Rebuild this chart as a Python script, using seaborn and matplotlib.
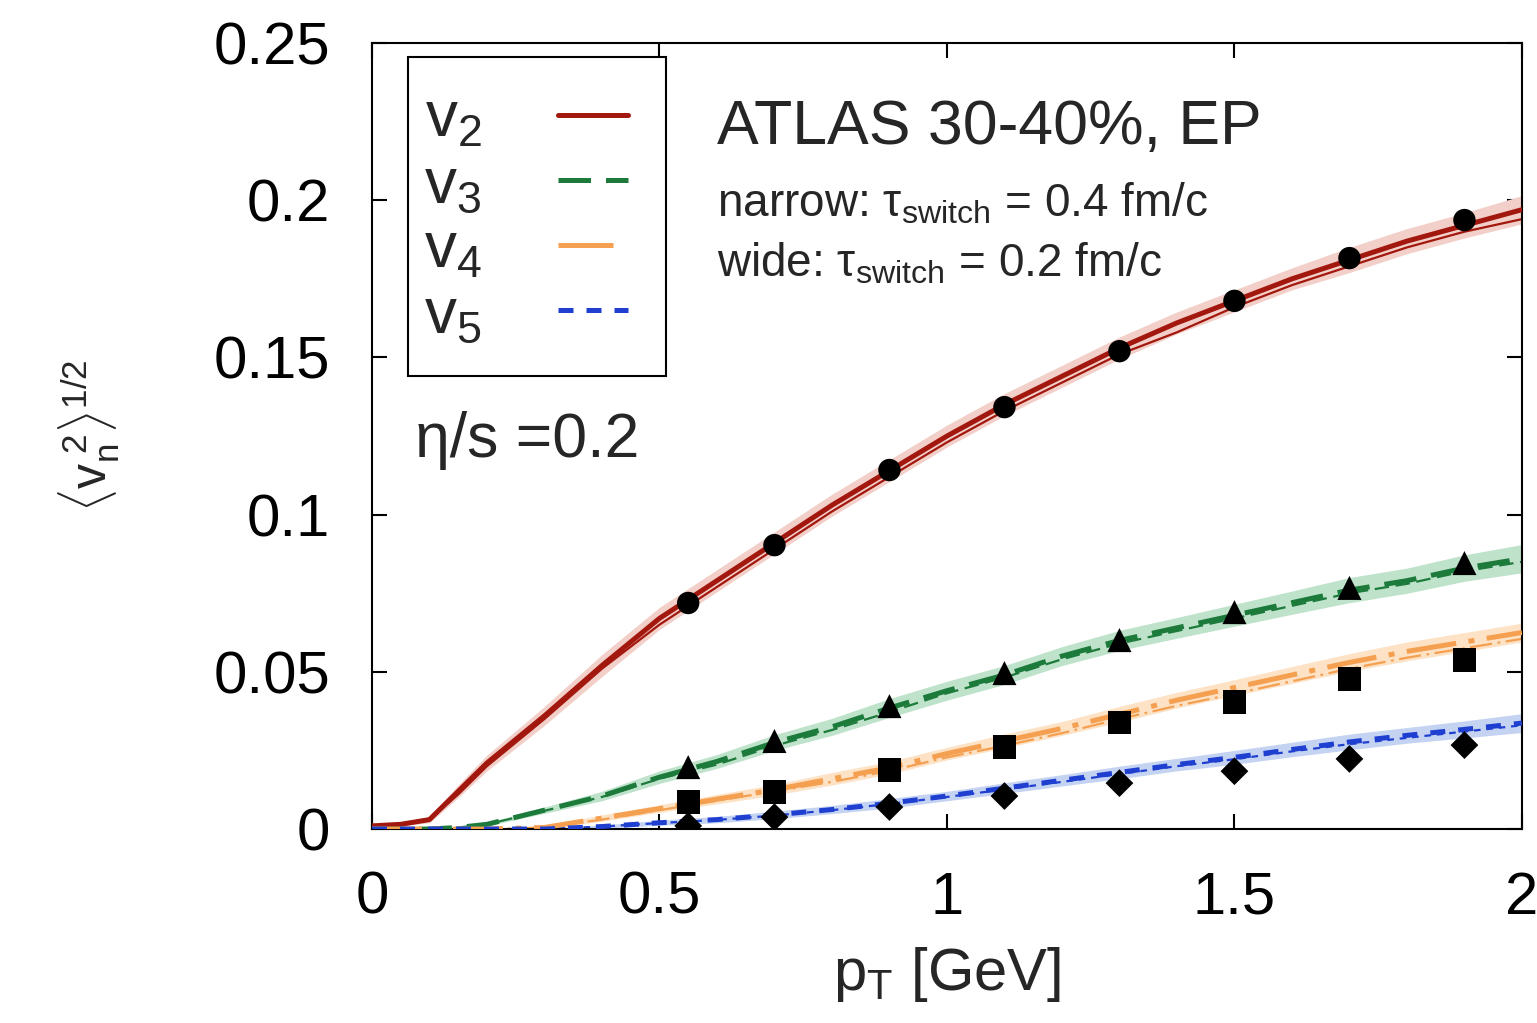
import seaborn as sns
import matplotlib.pyplot as plt
from matplotlib.lines import Line2D
from matplotlib.patches import Rectangle

# pT grid for the hydro curves [GeV]
pt = [0.0, 0.05, 0.1, 0.15, 0.2, 0.3, 0.4, 0.5, 0.6, 0.7, 0.8, 0.9,
      1.0, 1.1, 1.2, 1.3, 1.4, 1.5, 1.6, 1.7, 1.8, 1.9, 2.0]

# narrow (tau_switch = 0.4 fm/c), thick lines
v2_narrow = [0.001, 0.0015, 0.003, 0.012, 0.021, 0.036, 0.052, 0.067, 0.079, 0.091, 0.103, 0.114,
             0.125, 0.135, 0.144, 0.153, 0.161, 0.168, 0.175, 0.181, 0.187, 0.192, 0.197]
v3_narrow = [0.0, 0.0, 0.0, 0.0005, 0.0015, 0.006, 0.0105, 0.0165, 0.0215, 0.0275, 0.0325, 0.0385,
             0.044, 0.049, 0.055, 0.060, 0.064, 0.068, 0.072, 0.076, 0.079, 0.083, 0.086]
v4_narrow = [0.0, 0.0, 0.0, 0.0, 0.0, 0.0005, 0.0035, 0.0065, 0.0095, 0.0125, 0.016, 0.0195,
             0.024, 0.028, 0.032, 0.0365, 0.041, 0.045, 0.049, 0.053, 0.0565, 0.0595, 0.0625]
v5_narrow = [0.0, 0.0, 0.0, 0.0, 0.0, 0.0, 0.0008, 0.002, 0.003, 0.0045, 0.0062, 0.0082,
             0.0105, 0.013, 0.0155, 0.018, 0.0205, 0.0228, 0.0253, 0.0277, 0.0298, 0.0317, 0.0337]

# wide (tau_switch = 0.2 fm/c), thin lines
v2_wide = [0.001, 0.0015, 0.003, 0.011, 0.020, 0.035, 0.051, 0.065, 0.077, 0.089, 0.101, 0.112,
           0.123, 0.133, 0.142, 0.151, 0.158, 0.166, 0.173, 0.179, 0.185, 0.190, 0.194]
v3_wide = [0.0, 0.0, 0.0, 0.0005, 0.0015, 0.0058, 0.0102, 0.016, 0.0205, 0.0265, 0.0315, 0.0372,
           0.0432, 0.0482, 0.054, 0.059, 0.063, 0.067, 0.071, 0.075, 0.078, 0.082, 0.085]
v4_wide = [0.0, 0.0, 0.0, 0.0, 0.0, 0.0005, 0.003, 0.006, 0.009, 0.012, 0.015, 0.0185,
           0.0228, 0.0265, 0.0305, 0.035, 0.0392, 0.043, 0.047, 0.051, 0.0545, 0.0575, 0.0605]
v5_wide = [0.0, 0.0, 0.0, 0.0, 0.0, 0.0, 0.0008, 0.0019, 0.0029, 0.0043, 0.006, 0.008,
           0.0102, 0.0126, 0.015, 0.0175, 0.02, 0.0222, 0.0247, 0.027, 0.029, 0.031, 0.033]

# uncertainty half-widths of the shaded bands
v2_err = [0.0005, 0.0005, 0.001, 0.002, 0.0025, 0.003, 0.0035, 0.0035, 0.0035, 0.0035, 0.0035, 0.0035,
          0.0035, 0.0035, 0.0035, 0.0035, 0.0035, 0.0035, 0.0035, 0.004, 0.004, 0.004, 0.0045]
v3_err = [0.0, 0.0, 0.0, 0.0003, 0.0005, 0.001, 0.0015, 0.002, 0.0022, 0.0025, 0.0027, 0.003,
          0.003, 0.003, 0.003, 0.0032, 0.0033, 0.0035, 0.0037, 0.004, 0.004, 0.0042, 0.0045]
v4_err = [0.0, 0.0, 0.0, 0.0, 0.0, 0.0005, 0.001, 0.0012, 0.0015, 0.0017, 0.002, 0.002,
          0.002, 0.0022, 0.0022, 0.0025, 0.0025, 0.0025, 0.0027, 0.0028, 0.003, 0.003, 0.003]
v5_err = [0.0, 0.0, 0.0, 0.0, 0.0, 0.0, 0.0005, 0.0008, 0.001, 0.0012, 0.0013, 0.0015,
          0.0015, 0.0017, 0.0018, 0.002, 0.002, 0.0022, 0.0023, 0.0025, 0.0025, 0.0027, 0.003]

# ATLAS 30-40% EP data
pt_data = [0.55, 0.70, 0.90, 1.10, 1.30, 1.50, 1.70, 1.90]
v2_data = [0.0719, 0.0903, 0.1142, 0.1342, 0.1520, 0.1680, 0.1816, 0.1937]
v3_data = [0.0197, 0.0280, 0.0391, 0.0496, 0.0601, 0.0690, 0.0767, 0.0846]
v4_data = [0.0086, 0.0118, 0.0188, 0.0261, 0.0340, 0.0404, 0.0477, 0.0538]
v5_data = [0.0010, 0.0038, 0.0070, 0.0105, 0.0146, 0.0184, 0.0223, 0.0267]

x_ticks = [0, 0.5, 1, 1.5, 2]
x_labels = ["0", "0.5", "1", "1.5", "2"]
y_ticks = [0, 0.05, 0.1, 0.15, 0.2, 0.25]
y_labels = ["0", "0.05", "0.1", "0.15", "0.2", "0.25"]

sns.set_theme(style="ticks")
plt.rcParams["font.family"] = ["Liberation Sans", "DejaVu Sans"]
plt.rcParams["mathtext.fontset"] = "custom"
plt.rcParams["mathtext.rm"] = "Liberation Sans"
plt.rcParams["mathtext.it"] = "Liberation Sans:italic"
plt.rcParams["mathtext.sf"] = "Liberation Sans"

fig = plt.figure(figsize=(15.37, 10.23), dpi=100)
ax = fig.add_axes([0.2420, 0.1896, 0.7482, 0.7683])

series = [
    (v2_narrow, v2_wide, v2_err, "#a3180e", "#f2cfc8", "-", "-"),
    (v3_narrow, v3_wide, v3_err, "#1c7a3a", "#bfe2cb", (0, (6.5, 3)), (0, (6.5, 3))),
    (v4_narrow, v4_wide, v4_err, "#f4a050", "#fde2c6", (0, (10, 2.5, 1.2, 2.5)), (0, (11, 6))),
    (v5_narrow, v5_wide, v5_err, "#1f3fd0", "#c5d3f3", (0, (3, 2.6)), (0, (3, 2.6))),
]

handles = []
for narrow, wide, err, col, band, ls, leg_ls in series:
    lo = [v - e for v, e in zip(narrow, err)]
    hi = [v + e for v, e in zip(narrow, err)]
    ax.fill_between(pt, lo, hi, color=band, lw=0, zorder=1)
    sns.lineplot(x=pt, y=wide, ax=ax, color=col, lw=1.6, linestyle=ls, zorder=2)
    sns.lineplot(x=pt, y=narrow, ax=ax, color=col, lw=3.6, linestyle=ls, zorder=3)
    handles.append(Line2D([], [], color=col, lw=3.6, linestyle=leg_ls))

for yd, mk, sz in [(v2_data, "o", 260), (v3_data, "^", 300),
                   (v4_data, "s", 280), (v5_data, "D", 200)]:
    sns.scatterplot(x=pt_data, y=yd, ax=ax, marker=mk, color="black",
                    s=sz, edgecolor="none", zorder=5)

ax.set_xlim(0, 2)
ax.set_ylim(0, 0.25)
ax.set_xticks(x_ticks)
ax.set_xticklabels(x_labels)
ax.set_yticks(y_ticks)
ax.set_yticklabels(y_labels)
ax.tick_params(direction="in", length=11, width=1.5, labelsize=43,
               top=True, right=True, pad=30, colors="black")
for s in ax.spines.values():
    s.set_linewidth(1.5)
    s.set_color("black")

ax.set_xlabel(r"$\mathrm{p}_\mathrm{T}$ [GeV]", fontsize=43, labelpad=14)
ax.set_ylabel(r"$\langle\mathrm{v}_\mathrm{n}^{\ 2}\rangle^{1/2}$", fontsize=36, labelpad=66)

# legend box drawn separately, entries placed inside it
ax.add_patch(Rectangle((0.0313, 0.5763), 0.2244, 0.4059, transform=ax.transAxes,
                       facecolor="white", edgecolor="black", lw=1.5, zorder=6))
labels = [r"$\mathrm{v}_2$", r"$\mathrm{v}_3$", r"$\mathrm{v}_4$", r"$\mathrm{v}_5$"]
leg = ax.legend(handles, labels, loc="upper left", bbox_to_anchor=(0.045, 0.94),
                fontsize=46, markerfirst=False, handlelength=1.1, handletextpad=1.19,
                labelspacing=0.08, borderpad=0, borderaxespad=0, frameon=False)
leg.set_zorder(7)

ax.text(0.60, 0.218, "ATLAS 30-40%, EP", fontsize=45, va="baseline")
ax.text(0.60, 0.1947, r"narrow: τ$_\mathrm{switch}$ = 0.4 fm/c", fontsize=33, va="baseline")
ax.text(0.60, 0.1756, r"wide: τ$_\mathrm{switch}$ = 0.2 fm/c", fontsize=33, va="baseline")
ax.text(0.075, 0.1183, "η/s =0.2", fontsize=45, va="baseline")

fig.savefig("out.png", dpi=100)
